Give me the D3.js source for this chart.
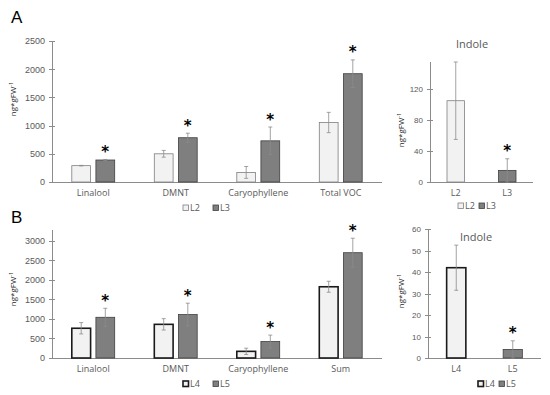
<!doctype html>
<html lang="en">
<head>
  <meta charset="utf-8">
  <title>volatiles</title>
  <style>
    body { margin: 0; background: #fff; }
    svg { display: block; font-family: "Open Sans", sans-serif; }
    .axis text { fill: #595959; }
    .axis path, .axis line { stroke: #8c8c8c; shape-rendering: crispEdges; }
  </style>
</head>
<body>
  <div class="chart"></div>
  <script src="https://d3js.org/d3.v7.min.js"></script>
  <script>
    'use strict';

    // panel A, left: compounds
    const catsA = ['Linalool', 'DMNT', 'Caryophyllene', 'Total VOC'];
    const l2Mean = [290, 500, 170, 1055];
    const l2Err = [5, 60, 105, 180];
    const l3Mean = [390, 785, 730, 1920];
    const l3Err = [10, 80, 245, 245];
    const ticksA = [0, 500, 1000, 1500, 2000, 2500];

    // panel A, right: indole
    const indoleCatsA = ['L2', 'L3'];
    const indoleA = [105, 15];
    const indoleErrA = [50, 15];
    const ticksIndA = [0, 40, 80, 120];

    // panel B, left: compounds
    const catsB = ['Linalool', 'DMNT', 'Caryophyllene', 'Sum'];
    const l4Mean = [760, 860, 170, 1820];
    const l4Err = [145, 145, 80, 140];
    const l5Mean = [1040, 1110, 420, 2690];
    const l5Err = [230, 290, 165, 370];
    const ticksB = [0, 500, 1000, 1500, 2000, 2500, 3000];

    // panel B, right: indole
    const indoleCatsB = ['L4', 'L5'];
    const indoleB = [42, 4];
    const indoleErrB = [10.5, 4];
    const ticksIndB = [0, 10, 20, 30, 40, 50, 60];

    const lightFill = '#f2f2f2';
    const darkFill = '#7f7f7f';

    const svg = d3.select('.chart').append('svg')
      .attr('width', 550)
      .attr('height', 395);

    function yAxis(g, y, x0, ticks, size) {
      const ax = g.append('g')
        .attr('class', 'axis')
        .attr('transform', `translate(${x0},0)`)
        .call(d3.axisLeft(y).tickValues(ticks).tickFormat(d3.format('d')).tickSize(3).tickPadding(4));
      ax.selectAll('.tick line').attr('x2', 3).attr('x1', -3);
      ax.select('.domain').attr('d', `M0,${y.range()[0]}V${y.range()[1]}`);
      ax.selectAll('text').style('font-size', size + 'px');
    }

    function yLabel(g, x, y) {
      const t = g.append('text')
        .attr('transform', `translate(${x},${y}) rotate(-90)`)
        .attr('text-anchor', 'middle')
        .style('font-size', '8px')
        .style('fill', '#262626');
      t.append('tspan').text('ng*gFW');
      t.append('tspan').attr('dy', -3).style('font-size', '5.5px').text('-1');
    }

    function xAxis(g, x, yPos, labelY) {
      const [a, b] = x.range();
      g.append('line')
        .attr('x1', a).attr('x2', b)
        .attr('y1', yPos).attr('y2', yPos)
        .attr('stroke', '#8c8c8c')
        .style('shape-rendering', 'crispEdges');
      g.selectAll(null).data(x.domain()).enter().append('text')
        .attr('x', d => x(d) + x.bandwidth() / 2)
        .attr('y', labelY)
        .attr('text-anchor', 'middle')
        .style('font-size', '9px')
        .style('fill', '#595959')
        .text(d => d);
    }

    function star(g, x, y) {
      g.append('text')
        .attr('x', x).attr('y', y + 1.5)
        .attr('text-anchor', 'middle')
        .style('font-family', '"DejaVu Sans", sans-serif')
        .style('font-size', '15px')
        .style('font-weight', 'bold')
        .style('fill', '#000')
        .text('*');
    }

    function bar(g, x, w, y, v, e, fill, stroke, sw, sig) {
      g.append('rect')
        .attr('x', x).attr('width', w)
        .attr('y', y(v)).attr('height', y(0) - y(v))
        .attr('fill', fill)
        .attr('stroke', stroke)
        .attr('stroke-width', sw);
      const cx = x + w / 2;
      const eb = g.append('g').attr('stroke', '#8c8c8c').attr('stroke-width', 0.8);
      eb.append('line').attr('x1', cx).attr('x2', cx).attr('y1', y(v + e)).attr('y2', y(Math.max(0, v - e)));
      eb.append('line').attr('x1', cx - 2).attr('x2', cx + 2).attr('y1', y(v + e)).attr('y2', y(v + e));
      eb.append('line').attr('x1', cx - 2).attr('x2', cx + 2).attr('y1', y(v - e)).attr('y2', y(v - e));
      if (sig) star(g, cx, y(v + e) - 4);
    }

    function legend(g, x, y, names, strokes, sw, gap) {
      let cx = x;
      names.forEach((n, i) => {
        g.append('rect')
          .attr('x', cx).attr('y', y - 3)
          .attr('width', 5.5).attr('height', 5.5)
          .attr('fill', i === 0 ? lightFill : darkFill)
          .attr('stroke', strokes[i])
          .attr('stroke-width', i === 0 ? sw : 0.8);
        g.append('text')
          .attr('x', cx + 7).attr('y', y + 3)
          .style('font-size', '9px')
          .style('fill', '#595959')
          .text(n);
        cx += gap;
      });
    }

    function groupedPanel(opts) {
      const g = svg.append('g');
      const x = d3.scaleBand().domain(opts.cats).range([52, 382])
        .paddingInner(0.48).paddingOuter(0.24);
      const xs = d3.scaleBand().domain([0, 1]).range([0, x.bandwidth()]).paddingInner(0.22);
      const y = d3.scaleLinear().domain([0, opts.max]).range([opts.bottom, opts.top]);
      yAxis(g, y, 52, opts.ticks, 9);
      xAxis(g, x, opts.bottom, opts.bottom + 14);
      opts.cats.forEach((c, i) => {
        bar(g, x(c) + xs(0), xs.bandwidth(), y, opts.m1[i], opts.e1[i], lightFill, opts.stroke1, opts.sw1, false);
        bar(g, x(c) + xs(1), xs.bandwidth(), y, opts.m2[i], opts.e2[i], darkFill, '#404040', 0.8, true);
      });
      yLabel(g, 16, opts.labelY);
      legend(g, 183, opts.legendY, opts.names, [opts.stroke1, '#404040'], opts.sw1, 30);
      g.append('text')
        .attr('x', 11).attr('y', opts.letterY)
        .style('font-family', '"Liberation Sans", sans-serif')
        .style('font-size', '17px')
        .style('fill', '#000')
        .text(opts.letter);
    }

    function indolePanel(opts) {
      const g = svg.append('g');
      const x = d3.scaleBand().domain(opts.cats).range([opts.x0, opts.x1])
        .paddingInner(0.66).paddingOuter(0.33);
      const y = d3.scaleLinear().domain([0, opts.max]).range([opts.bottom, opts.top]);
      yAxis(g, y, opts.x0, opts.ticks, 8);
      xAxis(g, x, opts.bottom, opts.bottom + 14);
      opts.cats.forEach((c, i) => {
        bar(g, x(c), x.bandwidth(), y, opts.m[i], opts.e[i],
          i === 0 ? lightFill : darkFill,
          i === 0 ? opts.stroke1 : '#404040',
          i === 0 ? opts.sw1 : 0.8, i === 1);
      });
      yLabel(g, 404, opts.labelY);
      g.append('text')
        .attr('x', opts.titleX).attr('y', opts.titleY)
        .attr('text-anchor', 'middle')
        .style('font-size', '11px')
        .style('fill', '#595959')
        .text('Indole');
      legend(g, opts.legendX, opts.legendY, opts.cats, [opts.stroke1, '#404040'], opts.sw1, 21);
    }

    groupedPanel({
      cats: catsA, m1: l2Mean, e1: l2Err, m2: l3Mean, e2: l3Err,
      ticks: ticksA, max: 2500, top: 41, bottom: 182,
      names: ['L2', 'L3'], stroke1: '#7f7f7f', sw1: 0.8,
      labelY: 99, legendY: 208, letter: 'A', letterY: 23
    });

    groupedPanel({
      cats: catsB, m1: l4Mean, e1: l4Err, m2: l5Mean, e2: l5Err,
      ticks: ticksB, max: 3270, top: 230, bottom: 358,
      names: ['L4', 'L5'], stroke1: '#1a1a1a', sw1: 1.6,
      labelY: 289, legendY: 384, letter: 'B', letterY: 223
    });

    indolePanel({
      cats: indoleCatsA, m: indoleA, e: indoleErrA, ticks: ticksIndA,
      max: 155, top: 62, bottom: 182, x0: 430, x1: 533,
      stroke1: '#7f7f7f', sw1: 0.8,
      labelY: 130, titleX: 472, titleY: 48, legendX: 458, legendY: 206
    });

    indolePanel({
      cats: indoleCatsB, m: indoleB, e: indoleErrB, ticks: ticksIndB,
      max: 60, top: 229, bottom: 358, x0: 428, x1: 541,
      stroke1: '#1a1a1a', sw1: 1.6,
      labelY: 291, titleX: 476, titleY: 241, legendX: 478, legendY: 384
    });
  </script>
</body>
</html>
